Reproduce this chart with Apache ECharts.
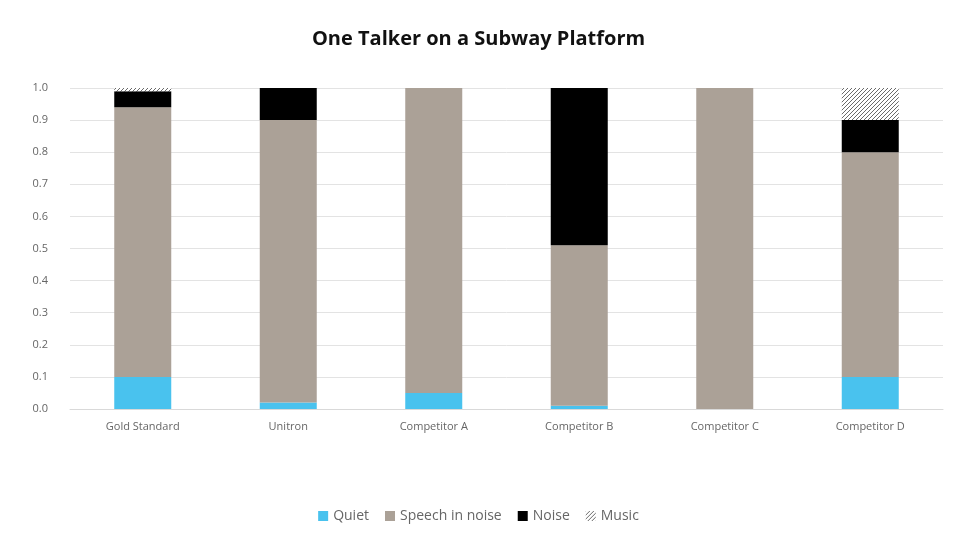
<!DOCTYPE html>
<html><head><meta charset="utf-8">
<script src="https://cdn.jsdelivr.net/npm/echarts@6/dist/echarts.min.js"></script>
<style>html,body{margin:0;padding:0;background:#fff}#c{width:957px;height:537px}</style>
</head><body><div id="c"></div>
<script>
const categories = ['Gold Standard','Unitron','Competitor A','Competitor B','Competitor C','Competitor D'];
const quiet = [0.10, 0.02, 0.05, 0.01, 0.00, 0.10];
const speech = [0.84, 0.88, 0.95, 0.50, 1.00, 0.70];
const noise = [0.05, 0.10, 0.00, 0.49, 0.00, 0.10];
const music = [0.01, 0.00, 0.00, 0.00, 0.00, 0.10];

function hatch(){
  const c = document.createElement('canvas');
  c.width = 4; c.height = 4;
  const g = c.getContext('2d');
  g.fillStyle = '#fff'; g.fillRect(0,0,4,4);
  g.strokeStyle = '#6a6a6a'; g.lineWidth = 1;
  g.beginPath();
  g.moveTo(0,4); g.lineTo(4,0);
  g.moveTo(-2,2); g.lineTo(2,-2);
  g.moveTo(2,6); g.lineTo(6,2);
  g.stroke();
  return c;
}
const pattern = {image: hatch(), repeat: 'repeat'};

const chart = echarts.init(document.getElementById('c'));
const font = 'Open Sans, sans-serif';
function s(name, data, color){
  return {name, type:'bar', stack:'a', data, barWidth:57, itemStyle:{color}};
}
chart.setOption({
  animation:false,
  title:{text:'One Talker on a Subway Platform', left:'center', top:24,
    textStyle:{fontFamily:font, fontSize:20, fontWeight:'bold', color:'#111'}},
  grid:{left:70, right:14, top:88, bottom:128},
  legend:{bottom:9, icon:'rect', itemWidth:10, itemHeight:10, itemGap:16,
    textStyle:{fontFamily:font, fontSize:14, color:'#666'},
    data:['Quiet','Speech in noise','Noise','Music']},
  xAxis:{type:'category', data:categories,
    axisLine:{lineStyle:{color:'#d9d9d9'}}, axisTick:{show:false},
    axisLabel:{fontFamily:font, fontSize:11, color:'#666', margin:12}},
  yAxis:{type:'value', min:0, max:1, interval:0.1,
    axisLabel:{fontFamily:font, fontSize:11, color:'#666', margin:22, formatter:v=>v.toFixed(1)},
    splitLine:{lineStyle:{color:'#e3e3e3'}}, axisLine:{show:false}, axisTick:{show:false}},
  series:[
    s('Quiet', quiet, '#49c2ee'),
    s('Speech in noise', speech, '#aba197'),
    s('Noise', noise, '#000000'),
    s('Music', music, pattern)
  ]
});
</script></body></html>
